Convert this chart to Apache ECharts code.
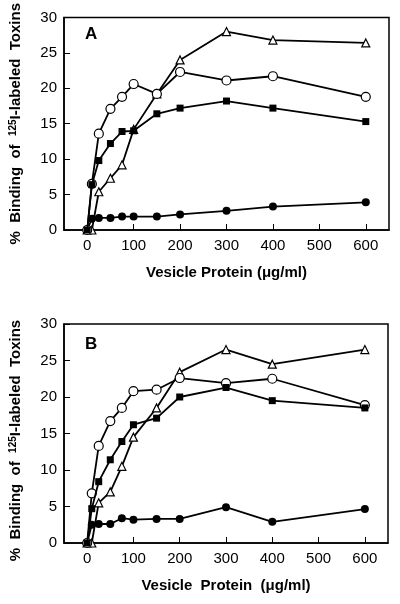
<!DOCTYPE html>
<html>
<head>
<meta charset="utf-8">
<script src="https://cdn.jsdelivr.net/npm/echarts@6/dist/echarts.min.js"></script>
<style>
html,body{margin:0;padding:0;background:#fff;}
#chart{width:400px;height:604px;}
</style>
</head>
<body>
<div id="chart"></div>
<script>
const xValues = [0, 10, 25, 50, 75, 100, 150, 200, 300, 400, 600];
const xTicks = [0, 100, 200, 300, 400, 500, 600];
const yTicks = [0, 5, 10, 15, 20, 25, 30];

const aOpenCircle   = [0, 6.5, 13.6, 17.1, 18.8, 20.6, 19.2, 22.3, 21.1, 21.7, 18.8];
const aFilledSquare = [0, 6.4, 9.8, 12.2, 13.9, 14.0, 16.4, 17.2, 18.2, 17.2, 15.3];
const aOpenTriangle = [0, 0, 5.4, 7.3, 9.2, 14.2, 19.2, 24.0, 28.0, 26.8, 26.4];
const aFilledCircle = [0, 1.6, 1.7, 1.7, 1.9, 1.9, 1.9, 2.2, 2.7, 3.3, 3.9];

const bOpenCircle   = [0, 6.8, 13.3, 16.7, 18.5, 20.8, 21.0, 22.6, 21.9, 22.5, 18.9];
const bFilledSquare = [0, 4.7, 8.4, 11.4, 13.9, 16.2, 17.1, 20.0, 21.3, 19.5, 18.5];
const bOpenTriangle = [0, 0, 5.5, 7.0, 10.5, 14.5, 18.5, 23.4, 26.5, 24.5, 26.5];
const bFilledCircle = [0, 2.5, 2.6, 2.6, 3.4, 3.2, 3.3, 3.3, 4.9, 2.9, 4.65];

const FONT = '"Liberation Sans", Arial, sans-serif';
const pair = ys => xValues.map((x, i) => [x, ys[i]]);

function xAxisFor(gridIndex, title) {
  return {
    type: 'value', gridIndex, min: -50, max: 650,
    axisLine: { show: true, onZero: false, lineStyle: { color: '#000', width: 1.5 } },
    axisTick: { show: true, inside: true, length: 6, customValues: xTicks, lineStyle: { color: '#000', width: 1 } },
    axisLabel: { customValues: xTicks, color: '#000', fontSize: 15, fontFamily: FONT, margin: 8 },
    splitLine: { show: false },
    name: title, nameLocation: 'middle', nameGap: 35,
    nameTextStyle: { color: '#000', fontSize: 15, fontWeight: 'bold', fontFamily: FONT }
  };
}
function yAxisFor(gridIndex, title, pad) {
  return {
    type: 'value', gridIndex, min: 0, max: 30, interval: 5,
    axisLine: { show: true, onZero: false, lineStyle: { color: '#000', width: 1.5 } },
    axisTick: { show: true, inside: true, length: 6, lineStyle: { color: '#000', width: 1 } },
    axisLabel: { color: '#000', fontSize: 15, fontFamily: FONT, margin: 7 },
    splitLine: { show: false },
    name: title, nameLocation: 'middle', nameGap: 40, nameRotate: 90,
    nameTextStyle: {
      color: '#000', fontSize: 15, fontWeight: 'bold', fontFamily: FONT, padding: pad,
      rich: { sup: { fontSize: 10, fontWeight: 'bold', fontFamily: FONT, color: '#000', verticalAlign: 'top', padding: [0, 0, 6, 0] } }
    }
  };
}
const yTitle = '%  Binding  of  {sup|125}I-labeled  Toxins';

function seriesFor(idx, oc, fs, ot, fc) {
  const base = { type: 'line', xAxisIndex: idx, yAxisIndex: idx, silent: true, animation: false,
    lineStyle: { color: '#000', width: 1.8 } };
  return [
    Object.assign({}, base, { data: pair(fc), symbol: 'circle', symbolSize: 8, itemStyle: { color: '#000' }, z: 2 }),
    Object.assign({}, base, { data: pair(ot), symbol: 'triangle', symbolSize: 8, itemStyle: { color: '#fff', borderColor: '#000', borderWidth: 1.2 }, z: 4 }),
    Object.assign({}, base, { data: pair(oc), symbol: 'circle', symbolSize: 9, itemStyle: { color: '#fff', borderColor: '#000', borderWidth: 1.2 }, z: 5 }),
    Object.assign({}, base, { data: pair(fs), symbol: 'rect', symbolSize: 7, itemStyle: { color: '#000' }, z: 6 })
  ];
}

const chart = echarts.init(document.getElementById('chart'), null, { renderer: 'canvas' });
chart.setOption({
  backgroundColor: '#fff',
  animation: false,
  grid: [
    { left: 63, top: 12, right: 11, height: 218, show: true, borderColor: '#000', borderWidth: 1.5, backgroundColor: 'transparent' },
    { left: 62, top: 324, right: 12, height: 219, show: true, borderColor: '#000', borderWidth: 1.5, backgroundColor: 'transparent' }
  ],
  xAxis: [xAxisFor(0, 'Vesicle Protein (\u03bcg/ml)'), xAxisFor(1, 'Vesicle  Protein  (\u03bcg/ml)')],
  yAxis: [yAxisFor(0, yTitle, [0, 0, 0, 0]), yAxisFor(1, yTitle, [0, 14, 0, 0])],
  graphic: [
    { type: 'text', left: 85, top: 26, style: { text: 'A', fontSize: 17, fontWeight: 'bold', fontFamily: FONT, fill: '#000' } },
    { type: 'text', left: 85, top: 336, style: { text: 'B', fontSize: 17, fontWeight: 'bold', fontFamily: FONT, fill: '#000' } }
  ],
  series: [].concat(
    seriesFor(0, aOpenCircle, aFilledSquare, aOpenTriangle, aFilledCircle),
    seriesFor(1, bOpenCircle, bFilledSquare, bOpenTriangle, bFilledCircle)
  )
});
</script>
</body>
</html>
